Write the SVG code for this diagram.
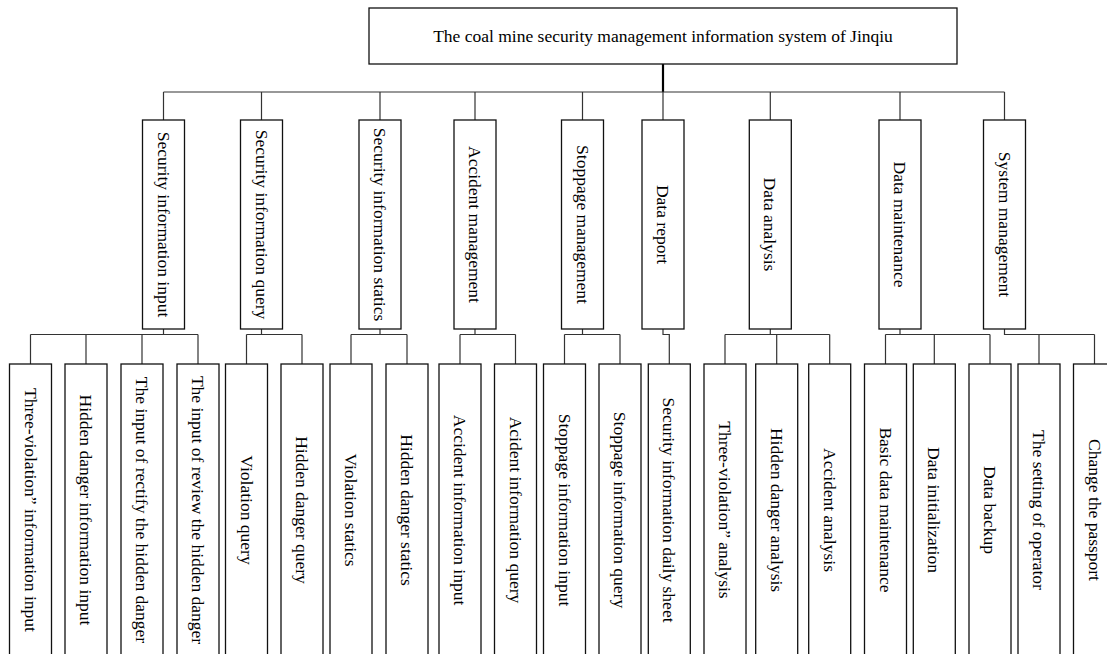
<svg xmlns="http://www.w3.org/2000/svg" width="1107" height="654" viewBox="0 0 1107 654">
<style>
.box{fill:#fff;stroke:#111;stroke-width:1.3}
.ln{fill:none;stroke:#333;stroke-width:1.2}
.thick{fill:none;stroke:#000;stroke-width:2.2}
text{font-family:"Liberation Serif","Times New Roman",serif;font-size:17.5px;fill:#000}
.v{text-anchor:middle}
</style>
<rect width="1107" height="654" fill="#fff"/>
<g id="connectors">
<path class="thick" d="M663,64V92"/>
<path class="ln" d="M163.5,92H1004.5M163.5,92V120M261.5,92V120M380,92V120M475,92V120M582.5,92V120M663,92V120M770.3,92V120M900,92V120M1004.5,92V120"/>
<path class="ln" d="M163.5,329V334.5M30.5,334.5H198M30.5,334.5V364M86,334.5V364M142,334.5V364M198,334.5V364"/>
<path class="ln" d="M261.5,329V334.5M246.5,334.5H302M246.5,334.5V364M302,334.5V364"/>
<path class="ln" d="M380,329V334.5M351,334.5H407M351,334.5V364M407,334.5V364"/>
<path class="ln" d="M475,329V334.5M460,334.5H515.5M460,334.5V364M515.5,334.5V364"/>
<path class="ln" d="M582.5,329V334.5M564.5,334.5H620M564.5,334.5V364M620,334.5V364"/>
<path class="ln" d="M663,329V334.5H669.3V364"/>
<path class="ln" d="M770.3,329V334.5M725,334.5H829.7M725,334.5V364M776.7,334.5V364M829.7,334.5V364"/>
<path class="ln" d="M900,329V334.5M885.5,334.5H990M885.5,334.5V364M934.3,334.5V364M990,334.5V364"/>
<path class="ln" d="M1004.5,329V334.5H1094.5M1039,334.5V364M1094.5,334.5V364"/>
</g>
<g id="root">
<rect class="box" x="369" y="8" width="588" height="56"/>
<text x="663" y="42" text-anchor="middle">The coal mine security management information system of Jinqiu</text>
</g>
<g id="m1"><rect class="box" x="142.5" y="120" width="42" height="209"/><text class="v" transform="translate(163.5,224.5) rotate(90)" y="6">Security information input</text></g>
<g id="m2"><rect class="box" x="240.5" y="120" width="42" height="209"/><text class="v" transform="translate(261.5,224.5) rotate(90)" y="6">Security information query</text></g>
<g id="m3"><rect class="box" x="359" y="120" width="42" height="209"/><text class="v" transform="translate(380,224.5) rotate(90)" y="6">Security information statics</text></g>
<g id="m4"><rect class="box" x="454" y="120" width="42" height="209"/><text class="v" transform="translate(475,224.5) rotate(90)" y="6">Accident management</text></g>
<g id="m5"><rect class="box" x="561.5" y="120" width="42" height="209"/><text class="v" transform="translate(582.5,224.5) rotate(90)" y="6">Stoppage management</text></g>
<g id="m6"><rect class="box" x="642" y="120" width="42" height="209"/><text class="v" transform="translate(663,224.5) rotate(90)" y="6">Data report</text></g>
<g id="m7"><rect class="box" x="749.3" y="120" width="42" height="209"/><text class="v" transform="translate(770.3,224.5) rotate(90)" y="6">Data analysis</text></g>
<g id="m8"><rect class="box" x="879" y="120" width="42" height="209"/><text class="v" transform="translate(900,224.5) rotate(90)" y="6">Data maintenance</text></g>
<g id="m9"><rect class="box" x="983.5" y="120" width="42" height="209"/><text class="v" transform="translate(1004.5,224.5) rotate(90)" y="6">System management</text></g>
<g id="b1"><rect class="box" x="9.5" y="364" width="42" height="292"/><text class="v" transform="translate(30.5,510) rotate(90)" y="6">Three-violation” information input</text></g>
<g id="b2"><rect class="box" x="65" y="364" width="42" height="292"/><text class="v" transform="translate(86,510) rotate(90)" y="6">Hidden danger information input</text></g>
<g id="b3"><rect class="box" x="121" y="364" width="42" height="292"/><text class="v" transform="translate(142,510) rotate(90)" y="6">The input of rectify the hidden danger</text></g>
<g id="b4"><rect class="box" x="177" y="364" width="42" height="292"/><text class="v" transform="translate(198,510) rotate(90)" y="6">The input of review the hidden danger</text></g>
<g id="b5"><rect class="box" x="225.5" y="364" width="42" height="292"/><text class="v" transform="translate(246.5,510) rotate(90)" y="6">Violation query</text></g>
<g id="b6"><rect class="box" x="281" y="364" width="42" height="292"/><text class="v" transform="translate(302,510) rotate(90)" y="6">Hidden danger query</text></g>
<g id="b7"><rect class="box" x="330" y="364" width="42" height="292"/><text class="v" transform="translate(351,510) rotate(90)" y="6">Violation statics</text></g>
<g id="b8"><rect class="box" x="386" y="364" width="42" height="292"/><text class="v" transform="translate(407,510) rotate(90)" y="6">Hidden danger statics</text></g>
<g id="b9"><rect class="box" x="439" y="364" width="42" height="292"/><text class="v" transform="translate(460,510) rotate(90)" y="6">Accident information input</text></g>
<g id="b10"><rect class="box" x="494.5" y="364" width="42" height="292"/><text class="v" transform="translate(515.5,510) rotate(90)" y="6">Acident information query</text></g>
<g id="b11"><rect class="box" x="543.5" y="364" width="42" height="292"/><text class="v" transform="translate(564.5,510) rotate(90)" y="6">Stoppage information input</text></g>
<g id="b12"><rect class="box" x="599" y="364" width="42" height="292"/><text class="v" transform="translate(620,510) rotate(90)" y="6">Stoppage information query</text></g>
<g id="b13"><rect class="box" x="648.3" y="364" width="42" height="292"/><text class="v" transform="translate(669.3,510) rotate(90)" y="6">Security information daily sheet</text></g>
<g id="b14"><rect class="box" x="704" y="364" width="42" height="292"/><text class="v" transform="translate(725,510) rotate(90)" y="6">Three-violation” analysis</text></g>
<g id="b15"><rect class="box" x="755.7" y="364" width="42" height="292"/><text class="v" transform="translate(776.7,510) rotate(90)" y="6">Hidden danger analysis</text></g>
<g id="b16"><rect class="box" x="808.7" y="364" width="42" height="292"/><text class="v" transform="translate(829.7,510) rotate(90)" y="6">Accident analysis</text></g>
<g id="b17"><rect class="box" x="864.5" y="364" width="42" height="292"/><text class="v" transform="translate(885.5,510) rotate(90)" y="6">Basic data maintenance</text></g>
<g id="b18"><rect class="box" x="913.3" y="364" width="42" height="292"/><text class="v" transform="translate(934.3,510) rotate(90)" y="6">Data initialization</text></g>
<g id="b19"><rect class="box" x="969" y="364" width="42" height="292"/><text class="v" transform="translate(990,510) rotate(90)" y="6">Data backup</text></g>
<g id="b20"><rect class="box" x="1018" y="364" width="42" height="292"/><text class="v" transform="translate(1039,510) rotate(90)" y="6">The setting of operator</text></g>
<g id="b21"><rect class="box" x="1073.5" y="364" width="42" height="292"/><text class="v" transform="translate(1094.5,510) rotate(90)" y="6">Change the passport</text></g>
</svg>
